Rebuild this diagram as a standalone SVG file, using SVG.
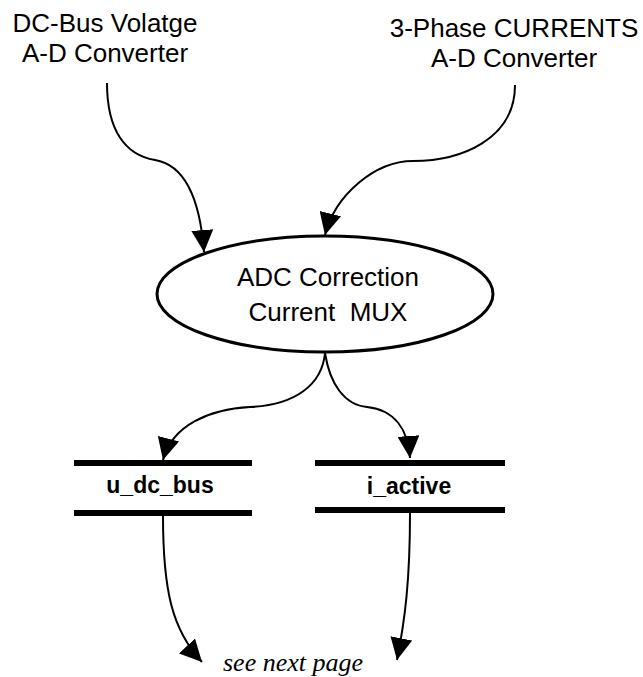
<svg xmlns="http://www.w3.org/2000/svg" width="643" height="677" viewBox="0 0 643 677">
<style>
  .lbl { font-family: "Liberation Sans", Arial, sans-serif; font-size: 26px; fill: #000; text-anchor: middle; }
  .store { font-family: "Liberation Sans", Arial, sans-serif; font-size: 23px; font-weight: bold; fill: #000; text-anchor: middle; }
  .note { font-family: "Liberation Serif", "Times New Roman", serif; font-size: 26px; font-style: italic; fill: #000; text-anchor: middle; }
  .conn { fill: none; stroke: #000; stroke-width: 2; marker-end: url(#ah); }
  .bar { stroke: #000; stroke-width: 6; }
</style>
<defs>
  <marker id="ah" markerUnits="userSpaceOnUse" markerWidth="22" markerHeight="22" viewBox="0 0 20 20" refX="20" refY="10" orient="auto">
    <path d="M0,0 L20,10 L0,20 z" fill="#000"/>
  </marker>
</defs>
<rect width="643" height="677" fill="#fff"/>
<g id="dcbus_adc">
  <text class="lbl" x="105" y="32">DC-Bus Volatge</text>
  <text class="lbl" x="105" y="62">A-D Converter</text>
</g>
<g id="phase_adc">
  <text class="lbl" x="514" y="37">3-Phase CURRENTS</text>
  <text class="lbl" x="514" y="67">A-D Converter</text>
</g>
<g id="adc_correction">
  <ellipse cx="325" cy="294" rx="168" ry="58" fill="#fff" stroke="#000" stroke-width="3"/>
  <text class="lbl" x="328" y="286">ADC Correction</text>
  <text class="lbl" x="328" y="321" style="white-space:pre">Current  MUX</text>
</g>
<g id="u_dc_bus">
  <line class="bar" x1="74" y1="463" x2="252" y2="463"/>
  <line class="bar" x1="74" y1="513" x2="252" y2="513"/>
  <text class="store" x="160" y="493">u_dc_bus</text>
</g>
<g id="i_active">
  <line class="bar" x1="315" y1="463" x2="505" y2="463"/>
  <line class="bar" x1="315" y1="510" x2="505" y2="510"/>
  <text class="store" x="409" y="494">i_active</text>
</g>
<g id="see_next_page">
  <text class="note" x="293" y="671">see next page</text>
</g>
<g id="connectors">
  <path class="conn" d="M107,83 C107,130 125,155 155,160 C185,165 200,200 204,252"/>
  <path class="conn" d="M515,85 C515,140 460,161 413,161 C375,161 335,195 325,235"/>
  <path class="conn" d="M325,353 C322,385 295,405 250,407 C210,409 172,425 163,460"/>
  <path class="conn" d="M325,353 C330,385 345,405 367,407 C395,410 408,430 410,458"/>
  <path class="conn" d="M163,516 C163,590 172,630 202,662"/>
  <path class="conn" d="M410,513 C410,580 405,620 397,660"/>
</g>
</svg>
